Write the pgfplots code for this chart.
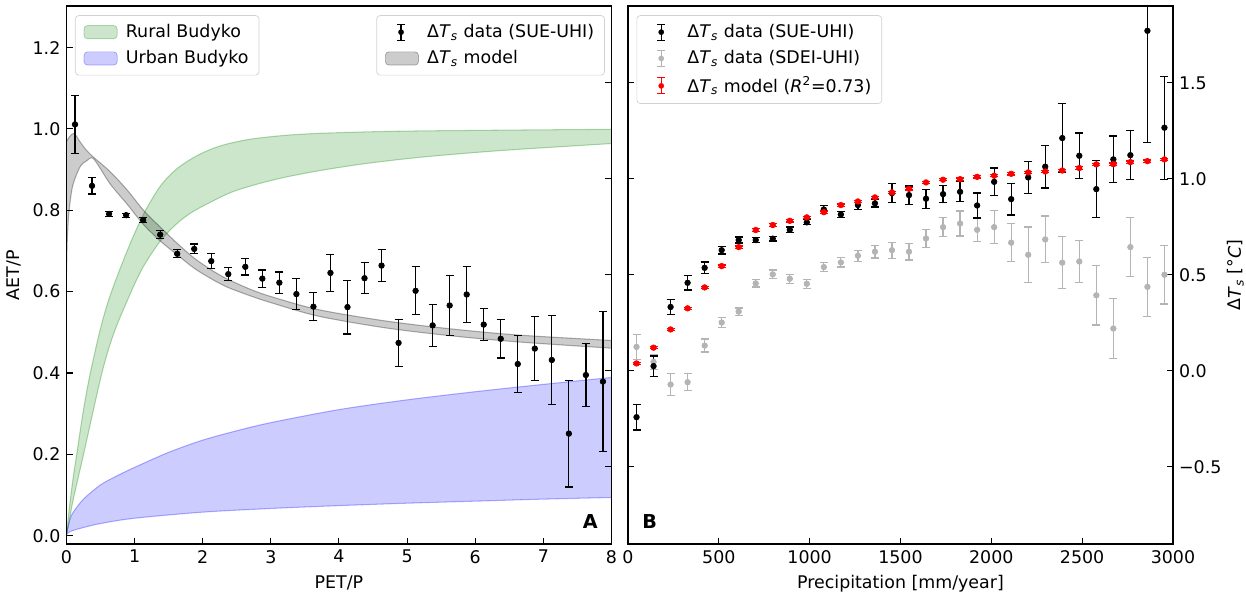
\documentclass[border=0pt]{standalone}
\usepackage{fontspec}
\setmainfont{DejaVu Sans}
\usepackage{pgfplots}
\pgfplotsset{compat=1.18}
\usepackage{pgfplotstable}
\usepgfplotslibrary{fillbetween}

\definecolor{rural}{RGB}{0,128,0}
\definecolor{urban}{RGB}{0,0,255}
\definecolor{sdei}{RGB}{180,180,180}
\definecolor{legframe}{RGB}{210,210,210}

\newcommand{\dTs}{Δ\textit{T}\textsubscript{\textit{s}}}

% left panel: AET/P data (SUE-UHI), bins of PET/P
\pgfplotstableread{
x y e
0.125 1.011 0.072
0.375 0.860 0.020
0.625 0.791 0.006
0.875 0.788 0.005
1.125 0.776 0.007
1.375 0.740 0.010
1.625 0.693 0.010
1.875 0.705 0.012
2.125 0.675 0.018
2.375 0.643 0.016
2.625 0.661 0.020
2.875 0.632 0.021
3.125 0.622 0.026
3.375 0.594 0.038
3.625 0.563 0.034
3.875 0.646 0.046
4.125 0.562 0.066
4.375 0.633 0.038
4.625 0.664 0.040
4.875 0.474 0.058
5.125 0.602 0.059
5.375 0.517 0.051
5.625 0.566 0.073
5.875 0.593 0.069
6.125 0.519 0.040
6.375 0.484 0.047
6.625 0.422 0.070
6.875 0.460 0.078
7.125 0.432 0.110
7.375 0.251 0.131
7.625 0.395 0.078
7.875 0.379 0.172
}\suedata

% Budyko bands (upper / lower edges)
\pgfplotstableread{
x y
0 0
0.02 0.035
0.05 0.08
0.1 0.145
0.15 0.2
0.25 0.31
0.35 0.4
0.5 0.51
0.64 0.59
0.89 0.70
1.13 0.79
1.38 0.860
1.62 0.902
1.87 0.930
2.12 0.950
2.36 0.963
2.71 0.975
3.2 0.984
3.7 0.989
4.5 0.993
5.2 0.995
6.5 0.997
8 0.999
}\ruraltop
\pgfplotstableread{
x y
0 0
0.05 0.045
0.1 0.09
0.25 0.2
0.52 0.4
0.7 0.5
0.95 0.60
1.13 0.662
1.38 0.725
1.62 0.767
1.87 0.798
2.36 0.840
2.71 0.860
3.15 0.879
3.7 0.897
4.4 0.915
5.18 0.930
6.0 0.942
6.66 0.950
8 0.964
}\ruralbot
\pgfplotstableread{
x y
0 0.005
0.05 0.04
0.1 0.058
0.25 0.09
0.5 0.125
0.75 0.148
1 0.168
1.5 0.205
2 0.235
2.5 0.258
3 0.278
4 0.31
5 0.334
6 0.354
7 0.372
8 0.389
}\urbantop
\pgfplotstableread{
x y
0 0.003
0.05 0.01
0.2 0.018
0.5 0.030
1 0.043
2 0.058
3 0.067
4 0.074
5 0.080
6 0.085
7 0.090
8 0.094
}\urbanbot
\pgfplotstableread{
x y
0 0.969
0.05 0.982
0.113 0.989
0.2 0.968
0.3 0.946
0.4 0.930
0.64 0.895
0.89 0.850
1.13 0.800
1.38 0.758
1.63 0.718
1.87 0.683
2.12 0.654
2.36 0.631
2.71 0.605
3.0 0.588
3.69 0.556
4.68 0.528
5.67 0.508
6.66 0.493
8 0.480
}\modeltop
\pgfplotstableread{
x y
0 0.645
0.01 0.72
0.03 0.784
0.06 0.83
0.1 0.866
0.2 0.907
0.3 0.922
0.4 0.926
0.64 0.865
0.89 0.815
1.13 0.765
1.38 0.724
1.63 0.690
1.87 0.658
2.12 0.632
2.36 0.611
2.71 0.589
3.0 0.573
3.69 0.540
4.68 0.511
5.67 0.491
6.66 0.476
8 0.461
}\modelbot

% right panel: Delta Ts vs precipitation
\pgfplotstableread{
x sue esue sdei esdei mod
46.9 -0.242 0.067 0.124 0.064 0.038
140.6 0.024 0.053 0.046 0.040 0.120
234.4 0.332 0.040 -0.072 0.058 0.215
328.1 0.458 0.038 -0.060 0.044 0.325
421.9 0.536 0.030 0.131 0.034 0.434
515.6 0.628 0.020 0.251 0.026 0.545
609.4 0.681 0.016 0.308 0.019 0.644
703.1 0.681 0.012 0.455 0.019 0.733
796.9 0.688 0.012 0.502 0.023 0.759
890.6 0.734 0.015 0.479 0.023 0.781
984.4 0.773 0.013 0.453 0.023 0.799
1078.1 0.840 0.019 0.540 0.024 0.826
1171.9 0.814 0.016 0.564 0.024 0.863
1265.6 0.863 0.022 0.599 0.028 0.882
1359.4 0.872 0.019 0.620 0.033 0.903
1453.1 0.925 0.050 0.628 0.042 0.929
1546.9 0.915 0.047 0.620 0.043 0.948
1640.6 0.896 0.050 0.689 0.047 0.981
1734.4 0.920 0.043 0.748 0.050 0.995
1828.1 0.932 0.052 0.767 0.065 0.998
1921.9 0.861 0.065 0.734 0.061 1.010
2015.6 0.984 0.072 0.748 0.086 1.016
2109.4 0.894 0.083 0.667 0.098 1.026
2203.1 1.007 0.082 0.604 0.145 1.033
2296.9 1.063 0.111 0.684 0.122 1.038
2390.6 1.212 0.181 0.563 0.135 1.043
2484.4 1.120 0.119 0.569 0.110 1.056
2578.1 0.946 0.148 0.393 0.155 1.075
2671.9 1.101 0.122 0.220 0.155 1.076
2765.6 1.123 0.127 0.644 0.153 1.087
2859.4 1.771 0.583 0.437 0.153 1.092
2953.1 1.266 0.268 0.500 0.152 1.101
}\precip

\pgfplotsset{
  panel/.style={
    scale only axis, width=312.8pt, height=308.8pt,
    anchor=south west,
    tick align=inside, major tick length=3.5pt,
    tick style={black, line width=0.6pt},
    axis line style={line width=0.8pt},
    /pgf/number format/assume math mode=true,
    legend cell align=left,
    legend style={draw=legframe, rounded corners=2pt, fill=white,
      inner xsep=4pt, inner ysep=3pt, row sep=2pt,
      font=\fontsize{10}{12}\selectfont},
  },
  errleg/.style={#1, legend image code/.code={
    \path[draw=none, fill=none] (0pt,-5pt) rectangle (23pt,5pt);
    \draw[draw=#1, line width=0.7pt] (10pt,-4.6pt) -- (10pt,4.6pt)
      (7.7pt,-4.6pt) -- (12.3pt,-4.6pt) (7.7pt,4.6pt) -- (12.3pt,4.6pt);
    \fill[fill=#1, draw=#1, line width=0.1pt] (10pt,0pt) circle (1.55pt);}},
  bandleg/.style={legend image code/.code={
    \path[draw=none, fill=none] (0pt,-5pt) rectangle (23pt,5pt);
    \draw[##1] (1pt,-3.8pt) rectangle (20pt,3.8pt);}},
  errpts/.style={only marks, mark=*, mark size=1.6pt,
    error bars/.cd, y dir=both, y explicit,
    error bar style={line width=0.7pt},
    error mark options={rotate=90, mark size=2.3pt, line width=0.7pt}},
  edge/.style={forget plot, smooth, opacity=0.3, line width=0.6pt},
}

\begin{document}
\begin{tikzpicture}

% ---- panel A: bands and legend 1
\begin{axis}[panel, at={(38.17pt,28.13pt)},
  xmin=0, xmax=8, ymin=-0.0204, ymax=1.302,
  xtick={0,...,8}, ytick={0,0.2,...,1.2},
  yticklabel style={/pgf/number format/.cd, fixed, fixed zerofill, precision=1},
  ytick pos=left, xtick pos=bottom,
  xlabel={PET/P}, ylabel={AET/P},
  legend style={at={(0.0156,0.983)}, anchor=north west}]
  \addlegendimage{bandleg, fill=rural, fill opacity=0.2, draw=rural, draw opacity=0.3}
  \addlegendentry{Rural Budyko}
  \addlegendimage{bandleg, fill=urban, fill opacity=0.2, draw=urban, draw opacity=0.3}
  \addlegendentry{Urban Budyko}
  \addplot[edge, name path=rt, rural] table {\ruraltop};
  \addplot[edge, name path=rb, rural] table {\ruralbot};
  \addplot[forget plot, rural, fill opacity=0.2] fill between[of=rt and rb];
  \addplot[edge, name path=ut, urban] table {\urbantop};
  \addplot[edge, name path=ub, urban] table {\urbanbot};
  \addplot[forget plot, urban, fill opacity=0.2] fill between[of=ut and ub];
  \node[font=\bfseries\fontsize{11}{13}\selectfont] at (rel axis cs:0.961,0.041) {A};
\end{axis}

% ---- panel A: model band, data and legend 2
\begin{axis}[panel, at={(38.17pt,28.13pt)},
  xmin=0, xmax=8, ymin=-0.0204, ymax=1.302, hide axis,
  legend style={at={(0.988,0.983)}, anchor=north east}]
  \addlegendimage{errleg=black}
  \addlegendentry{\dTs{} data (SUE-UHI)}
  \addlegendimage{bandleg, fill=black, fill opacity=0.2, draw=black, draw opacity=0.3}
  \addlegendentry{\dTs{} model}
  \addplot[edge, name path=mt, black] table {\modeltop};
  \addplot[edge, name path=mb, black] table {\modelbot};
  \addplot[forget plot, black, fill opacity=0.2] fill between[of=mt and mb];
  \addplot[forget plot, black, errpts] table[x=x, y=y, y error=e] {\suedata};
\end{axis}

% ---- panel A: right-hand ticks on the Delta Ts scale
\begin{axis}[panel, at={(38.17pt,28.13pt)},
  xmin=0, xmax=1, ymin=-0.903, ymax=1.90,
  ytick={-0.5,0,0.5,1,1.5}, yticklabels={}, ytick pos=right,
  hide x axis]
  \addplot[draw=none] coordinates {(0.5,0.5)};
\end{axis}

% ---- panel B
\begin{axis}[panel, at={(360.47pt,28.13pt)},
  xmin=0, xmax=3000, ymin=-0.903, ymax=1.90,
  xtick={0,500,...,3000}, xtick pos=bottom,
  xticklabel style={/pgf/number format/1000 sep={}},
  scaled x ticks=false,
  ytick={-0.5,0,0.5,1,1.5}, yticklabels={−0.5,0.0,0.5,1.0,1.5},
  ytick pos=both, yticklabel pos=right,
  xlabel={Precipitation [mm/year]},
  ylabel={\dTs{} [°\textit{C}]},
  ylabel style={at={(rel axis cs:1,0.5)}, anchor=center, yshift=-36pt},
  legend style={at={(0.0156,0.983)}, anchor=north west}]
  \addlegendimage{errleg=black}
  \addlegendentry{\dTs{} data (SUE-UHI)}
  \addlegendimage{errleg=sdei}
  \addlegendentry{\dTs{} data (SDEI-UHI)}
  \addlegendimage{errleg=red}
  \addlegendentry{\dTs{} model (\textit{R}\textsuperscript{2}=0.73)}
  \addplot[forget plot, sdei, errpts] table[x=x, y=sdei, y error=esdei] {\precip};
  \addplot[forget plot, black, errpts] table[x=x, y=sue, y error=esue] {\precip};
  \addplot[forget plot, red, errpts] table[x=x, y=mod, y error expr=0.006] {\precip};
  \node[font=\bfseries\fontsize{11}{13}\selectfont] at (rel axis cs:0.04,0.041) {B};
\end{axis}

\pgfresetboundingbox
\path[use as bounding box] (0,0) rectangle (715.2pt,340.4pt);
\end{tikzpicture}
\end{document}
